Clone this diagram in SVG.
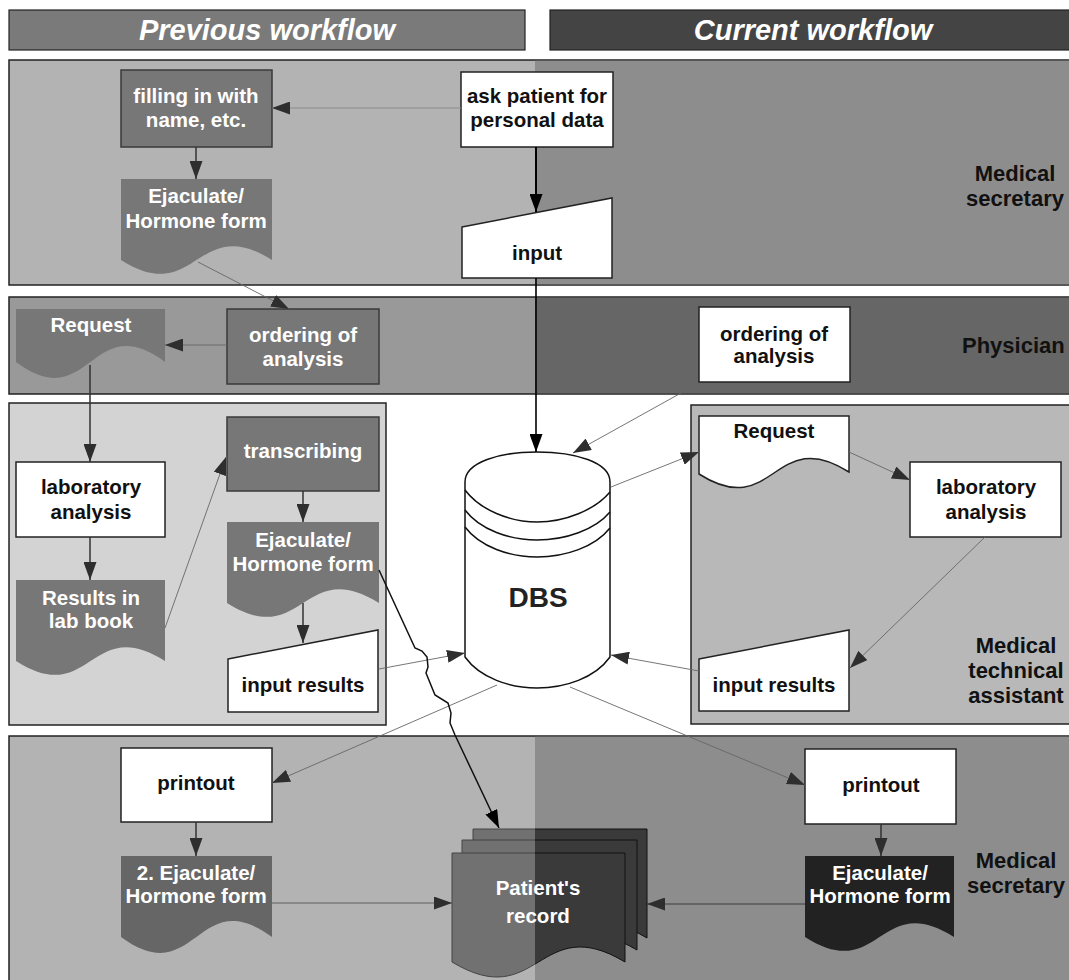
<svg xmlns="http://www.w3.org/2000/svg" width="1069" height="980" viewBox="0 0 1069 980">
<style>
text{font-family:"Liberation Sans",Arial,sans-serif;font-weight:bold;text-anchor:middle}
.hdr{font-size:29px;font-style:italic;fill:#fff}
.nt{font-size:20.5px}
.w{fill:#fff}
.k{fill:#111}
.lab{font-size:22px;fill:#111}
.lane{stroke:#222;stroke-width:1.5}
.dn{fill:#777;stroke:#3a3a3a;stroke-width:1.5}
.dd{fill:#777;stroke:none}
.wn{fill:#fff;stroke:#222;stroke-width:1.5}
.thin{fill:none;stroke:#666;stroke-width:0.9;marker-end:url(#ah)}
.dk{fill:none;stroke:#333;stroke-width:1.5;marker-end:url(#ah)}
.bk{fill:none;stroke:#000;stroke-width:1.6;marker-end:url(#ahb)}
.db{fill:#fff;stroke:#111;stroke-width:1.5}
.dbl{fill:none;stroke:#111;stroke-width:1.5}
</style>
<defs>
<marker id="ah" viewBox="0 0 18 13" refX="18" refY="6.5" markerWidth="18" markerHeight="13" markerUnits="userSpaceOnUse" orient="auto"><path d="M0,0 L18,6.5 L0,13 Z" fill="#2e2e2e"/></marker>
<marker id="ahb" viewBox="0 0 18 13" refX="18" refY="6.5" markerWidth="18" markerHeight="13" markerUnits="userSpaceOnUse" orient="auto"><path d="M0,0 L18,6.5 L0,13 Z" fill="#000"/></marker>
<clipPath id="cl"><rect x="0" y="0" width="535" height="980"/></clipPath>
<clipPath id="cr"><rect x="535" y="0" width="534" height="980"/></clipPath>
<g id="rec">
<path d="M473,829 H647 V938 C560,886 560,990 473,938 Z"/>
<path d="M462,840 H637 V950 C549.5,898 549.5,1002 462,950 Z"/>
<path d="M452,853 H625 V962 C538.5,910 538.5,1014 452,962 Z"/>
</g>
</defs>

<g id="headers">
<rect x="9" y="10" width="516" height="40" fill="#7a7a7a" stroke="#222" stroke-width="1.2"/>
<text class="hdr" x="267" y="40">Previous workflow</text>
<rect x="550" y="10" width="525" height="40" fill="#444" stroke="#222" stroke-width="1.2"/>
<text class="hdr" x="813" y="40">Current workflow</text>
</g>

<g id="lanes">
<rect x="9" y="60" width="1065" height="225" fill="#b3b3b3" class="lane"/>
<rect x="535" y="60.75" width="534" height="223.5" fill="#8d8d8d"/>
<rect x="9" y="297" width="1065" height="97" fill="#999" class="lane"/>
<rect x="535" y="297.75" width="534" height="95.5" fill="#666"/>
<rect x="9" y="403" width="377" height="322" fill="#d3d3d3" class="lane"/>
<rect x="691" y="405" width="383" height="319" fill="#b8b8b8" class="lane"/>
<rect x="9" y="736" width="1065" height="250" fill="#b3b3b3" class="lane"/>
<rect x="535" y="736.75" width="534" height="250" fill="#8d8d8d"/>
<text class="lab" x="1015" y="181">Medical</text>
<text class="lab" x="1015" y="206">secretary</text>
<text class="lab" x="962" y="353" style="text-anchor:start">Physician</text>
<text class="lab" x="1016" y="653">Medical</text>
<text class="lab" x="1016" y="678">technical</text>
<text class="lab" x="1016" y="703">assistant</text>
<text class="lab" x="1016" y="868">Medical</text>
<text class="lab" x="1016" y="893">secretary</text>
</g>

<g id="n-filling">
<rect x="121" y="70" width="151" height="77" class="dn"/>
<text class="nt w" x="196" y="103">filling in with</text>
<text class="nt w" x="196" y="127">name, etc.</text>
</g>
<g id="n-form1">
<path d="M121,179 H272 V260 C196.5,212 196.5,308 121,260 Z" class="dd"/>
<text class="nt w" x="196" y="203">Ejaculate/</text>
<text class="nt w" x="196" y="228">Hormone form</text>
</g>
<g id="n-ask">
<rect x="461" y="72" width="152" height="75" class="wn"/>
<text class="nt k" x="537" y="103">ask patient for</text>
<text class="nt k" x="537" y="127">personal data</text>
</g>
<g id="n-input">
<path d="M462,227 L612,198 L612,278 L462,278 Z" class="wn"/>
<text class="nt k" x="537" y="260">input</text>
</g>

<g id="n-request1">
<path d="M16,309 H165 V362 C90.5,307 90.5,417 16,362 Z" class="dd"/>
<text class="nt w" x="91" y="332">Request</text>
</g>
<g id="n-order1">
<rect x="227" y="309" width="152" height="75" class="dn"/>
<text class="nt w" x="303" y="342">ordering of</text>
<text class="nt w" x="303" y="366">analysis</text>
</g>
<g id="n-order2">
<rect x="699" y="307" width="151" height="75" class="wn"/>
<text class="nt k" x="774" y="341">ordering of</text>
<text class="nt k" x="774" y="363">analysis</text>
</g>

<g id="n-lab1">
<rect x="16" y="462" width="149" height="75" class="wn"/>
<text class="nt k" x="91" y="494">laboratory</text>
<text class="nt k" x="91" y="519">analysis</text>
</g>
<g id="n-results">
<path d="M16,580 H165 V661 C90.5,613 90.5,709 16,661 Z" class="dd"/>
<text class="nt w" x="91" y="605">Results in</text>
<text class="nt w" x="91" y="628">lab book</text>
</g>
<g id="n-transcribing">
<rect x="227" y="417" width="152" height="74" class="dn"/>
<text class="nt w" x="303" y="458">transcribing</text>
</g>
<g id="n-form2">
<path d="M227,522 H379 V603 C303,555 303,651 227,603 Z" class="dd"/>
<text class="nt w" x="303" y="547">Ejaculate/</text>
<text class="nt w" x="303" y="571">Hormone form</text>
</g>
<g id="n-input2">
<path d="M228,659 L378,630 L378,712 L228,712 Z" class="wn"/>
<text class="nt k" x="303" y="692">input results</text>
</g>

<g id="n-dbs">
<path d="M465,482 C465,462 500,452 537,452 C575,452 610,462 610,482 L610,657 C595,678 565,688 537,688 C510,688 480,678 465,657 Z" class="db"/>
<path d="M465,490 C480,510 510,522 537,522 C565,522 595,510 610,492" class="dbl"/>
<path d="M465,510 C480,530 510,540 537,540 C565,540 595,530 610,512" class="dbl"/>
<path d="M465,527 C480,547 510,557 537,557 C565,557 595,547 610,528" class="dbl"/>
<text x="538" y="607" style="font-size:28px;fill:#222">DBS</text>
</g>

<g id="n-request2">
<path d="M699,416 H849 V472 C774,424 774,522 699,474 Z" class="wn"/>
<text class="nt k" x="774" y="438">Request</text>
</g>
<g id="n-lab2">
<rect x="910" y="462" width="151" height="75" class="wn"/>
<text class="nt k" x="986" y="494">laboratory</text>
<text class="nt k" x="986" y="519">analysis</text>
</g>
<g id="n-input3">
<path d="M699,659 L849,630 L849,711 L699,711 Z" class="wn"/>
<text class="nt k" x="774" y="692">input results</text>
</g>

<g id="n-printout1">
<rect x="121" y="748" width="151" height="74" class="wn"/>
<text class="nt k" x="196" y="790">printout</text>
</g>
<g id="n-form3">
<path d="M121,856 H272 V937 C196.5,882 196.5,992 121,937 Z" fill="#666"/>
<text class="nt w" x="196" y="880">2. Ejaculate/</text>
<text class="nt w" x="196" y="903">Hormone form</text>
</g>
<g id="n-printout2">
<rect x="805" y="749" width="151" height="75" class="wn"/>
<text class="nt k" x="881" y="792">printout</text>
</g>
<g id="n-form4">
<path d="M805,856 H954 V937 C879.5,889 879.5,985 805,937 Z" fill="#222"/>
<text class="nt w" x="880" y="880">Ejaculate/</text>
<text class="nt w" x="880" y="903">Hormone form</text>
</g>
<g id="n-record">
<use href="#rec" clip-path="url(#cl)" fill="#717171" stroke="#444" stroke-width="1"/>
<use href="#rec" clip-path="url(#cr)" fill="#3a3a3a" stroke="#111" stroke-width="1"/>
<text class="nt w" x="538" y="895">Patient's</text>
<text class="nt w" x="538" y="923">record</text>
</g>

<g id="connectors">
<path d="M461,108 L272,108" class="thin" style="stroke:#888"/>
<path d="M196,147 L196,179" class="dk"/>
<path d="M536,147 L536,212" class="bk" style="stroke-width:2"/>
<path d="M536,278 L536,452" class="bk"/>
<path d="M198,262 L289,309" class="thin"/>
<path d="M227,345 L165,345" class="thin"/>
<path d="M90,365 L90,462" class="dk"/>
<path d="M90,537 L90,580" class="dk"/>
<path d="M165,628 L226,457" class="thin"/>
<path d="M303,491 L303,522" class="dk"/>
<path d="M303,603 L303,643" class="dk"/>
<path d="M379,669 L465,653" class="thin"/>
<path d="M699,383 L573,453" class="thin"/>
<path d="M611,487 L699,452" class="thin"/>
<path d="M849,452 L910,480" class="thin"/>
<path d="M985,537 L850,668" class="thin"/>
<path d="M699,671 L611,655" class="thin"/>
<path d="M497,685 L272,783" class="thin"/>
<path d="M570,687 L805,785" class="thin"/>
<path d="M196,822 L196,856" class="dk"/>
<path d="M881,824 L881,856" class="dk"/>
<path d="M272,903 L452,903" class="thin" style="stroke:#555"/>
<path d="M805,904 L647,904" class="thin" style="stroke:#333"/>
<path d="M379,570 L415,648 L422,651 L427,657 L428,667 L426,673 L435,695 L448,703 L451,713 L450,723 L455,735 L499,828" class="bk" style="stroke:#111;stroke-width:1.5"/>
</g>
</svg>
